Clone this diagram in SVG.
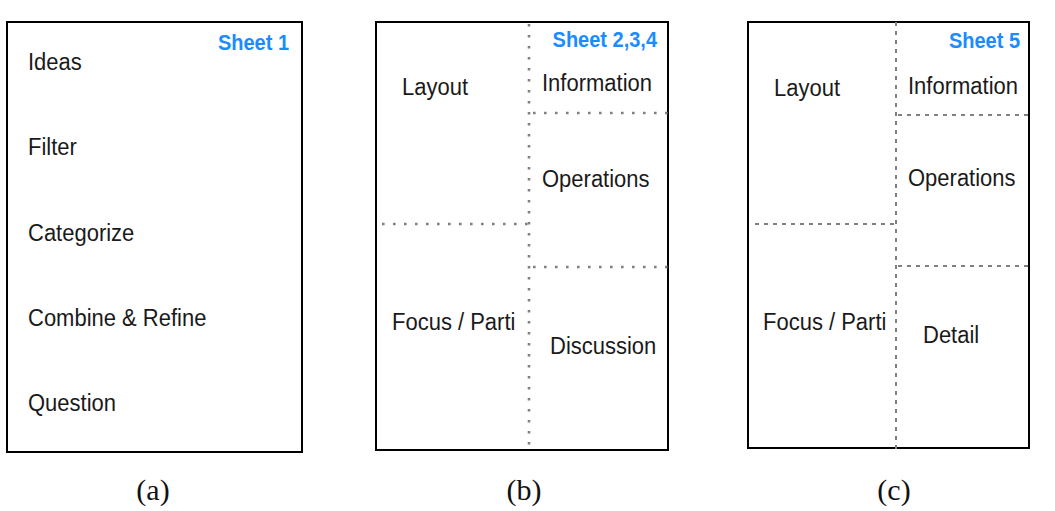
<svg xmlns="http://www.w3.org/2000/svg" width="1055" height="511" viewBox="0 0 1055 511">
<style>
.frame{fill:#fff;stroke:#000;stroke-width:2}
.t{font-family:"Liberation Sans",Arial,sans-serif;font-size:22px;fill:#1a1a1a}
.sheet{font-family:"Liberation Sans",Arial,sans-serif;font-size:20px;font-weight:bold;fill:#1a8cff;text-anchor:end}
.cap{font-family:"Liberation Serif","Times New Roman",serif;font-size:30px;fill:#111;text-anchor:middle}
.dotb{stroke:#808080;stroke-width:2.6;stroke-dasharray:2.6 8.4;fill:none}
.dashc{stroke:#808080;stroke-width:2;stroke-dasharray:4 5;fill:none}
</style>
<rect width="1055" height="511" fill="#fff"/>
<g id="sheetA">
<rect class="frame" x="7" y="22" width="295" height="430"/>
<text class="sheet" transform="translate(289,50) scale(1,1.12)">Sheet 1</text>
<text class="t" transform="translate(28,70) scale(1,1.12)">Ideas</text>
<text class="t" transform="translate(28,155) scale(1,1.12)">Filter</text>
<text class="t" transform="translate(28,241) scale(1,1.12)">Categorize</text>
<text class="t" transform="translate(28,326) scale(1,1.12)">Combine &amp; Refine</text>
<text class="t" transform="translate(28,411) scale(1,1.12)">Question</text>
</g>
<g id="sheetB">
<rect class="frame" x="376" y="22" width="292" height="428"/>
<g id="sheetB-dividers">
<line class="dotb" x1="529" y1="24" x2="529" y2="449"/>
<line class="dotb" x1="533" y1="113" x2="668" y2="113"/>
<line class="dotb" x1="382" y1="224" x2="529" y2="224"/>
<line class="dotb" x1="533" y1="267" x2="668" y2="267"/>
</g>
<text class="sheet" transform="translate(657,47) scale(1,1.12)">Sheet 2,3,4</text>
<text class="t" transform="translate(402,95) scale(1,1.12)">Layout</text>
<text class="t" transform="translate(542,91) scale(1,1.12)">Information</text>
<text class="t" transform="translate(542,187) scale(1,1.12)">Operations</text>
<text class="t" transform="translate(392,330) scale(1,1.12)">Focus / Parti</text>
<text class="t" transform="translate(550,354) scale(1,1.12)">Discussion</text>
</g>
<g id="sheetC">
<rect class="frame" x="748" y="22" width="281" height="426"/>
<g id="sheetC-dividers">
<line class="dashc" x1="896" y1="22" x2="896" y2="450"/>
<line class="dashc" x1="898" y1="115" x2="1029" y2="115"/>
<line class="dashc" x1="755" y1="224" x2="896" y2="224"/>
<line class="dashc" x1="898" y1="266" x2="1029" y2="266"/>
</g>
<text class="sheet" transform="translate(1020,48) scale(1,1.12)">Sheet 5</text>
<text class="t" transform="translate(774,96) scale(1,1.12)">Layout</text>
<text class="t" transform="translate(908,94) scale(1,1.12)">Information</text>
<text class="t" transform="translate(908,186) scale(1,1.12)">Operations</text>
<text class="t" transform="translate(763,330) scale(1,1.12)">Focus / Parti</text>
<text class="t" transform="translate(923,343) scale(1,1.12)">Detail</text>
</g>
<g id="captions">
<text class="cap" x="153" y="500">(a)</text>
<text class="cap" x="524" y="500">(b)</text>
<text class="cap" x="894" y="500">(c)</text>
</g>
</svg>
